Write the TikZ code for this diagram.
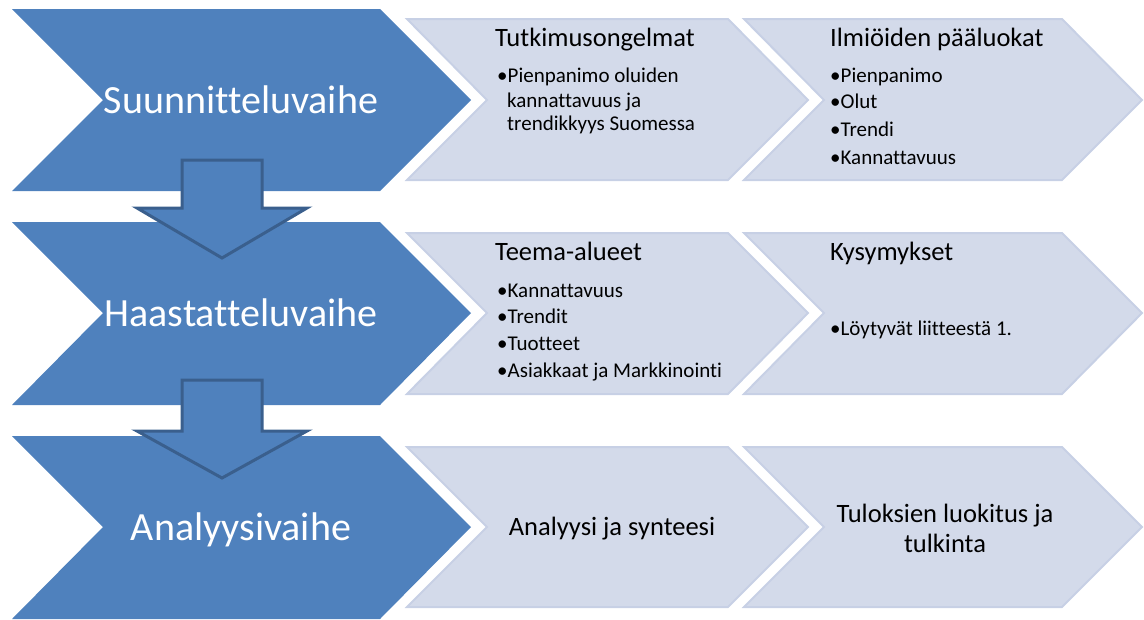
\documentclass[tikz,border=0pt]{standalone}
\usepackage{fontspec}
\setmainfont{Carlito}[Ligatures={NoCommon}]
\definecolor{phaseblue}{HTML}{4F81BD}
\definecolor{arrowedge}{HTML}{3A5F8D}
\definecolor{stepfill}{HTML}{D3DAEA}
\definecolor{stepedge}{HTML}{C7D0E5}

\begin{document}
\begin{tikzpicture}[x=1pt, y=-1pt,
    phaseshape/.style={fill=phaseblue},
    stepshape/.style={fill=stepfill, draw=stepedge, line width=2pt},
    downarrow/.style={fill=phaseblue, draw=arrowedge, line width=3pt},
    phase/.style={text=white, font=\fontsize{40}{48}\selectfont, anchor=base, inner sep=0pt},
    head/.style={font=\fontsize{26.5}{30}\selectfont, anchor=base west, inner sep=0pt},
    item/.style={font=\fontsize{21}{24}\selectfont, anchor=base west, inner sep=0pt},
    steptext/.style={font=\fontsize{26.5}{30}\selectfont, inner sep=0pt}]
    \useasboundingbox (0,0) rectangle (1144,619);

    % Vaiheet
    \fill[phaseshape] (12,9) -- (380,9) -- (471,100) -- (380,191) -- (12,191) -- (103,100) -- cycle;
    \fill[phaseshape] (12,222) -- (380,222) -- (471,313) -- (380,405) -- (12,405) -- (103,313) -- cycle;
    \fill[phaseshape] (12,436) -- (380,436) -- (471,527) -- (380,619) -- (12,619) -- (103,527) -- cycle;

    % Vaiheiden sisalto
    \draw[stepshape] (407,19) -- (728,19) -- (808,100) -- (728,180) -- (407,180) -- (487,100) -- cycle;
    \draw[stepshape] (744,19) -- (1062,19) -- (1142,100) -- (1062,180) -- (744,180) -- (824,100) -- cycle;
    \draw[stepshape] (407,233) -- (728,233) -- (808,313) -- (728,394) -- (407,394) -- (487,313) -- cycle;
    \draw[stepshape] (744,233) -- (1062,233) -- (1142,313) -- (1062,394) -- (744,394) -- (824,313) -- cycle;
    \draw[stepshape] (407,447) -- (728,447) -- (808,527) -- (728,607) -- (407,607) -- (487,527) -- cycle;
    \draw[stepshape] (744,447) -- (1062,447) -- (1142,527) -- (1062,607) -- (744,607) -- (824,527) -- cycle;

    % Nuolet alas
    \draw[downarrow] (182,160) -- (262,160) -- (262,208) -- (307,208) -- (222,258) -- (137,208) -- (182,208) -- cycle;
    \draw[downarrow] (182,380) -- (262,380) -- (262,431) -- (307,431) -- (222,478) -- (137,431) -- (182,431) -- cycle;

    % Tekstit
    \node[phase] (suunnittelu) at (241,113) {Suunnitteluvaihe};
    \node[phase] (haastattelu) at (241,326) {Haastatteluvaihe};
    \node[phase] (analyysi) at (241,540) {Analyysivaihe};

    \node[head] (ongelmat) at (495,46) {Tutkimusongelmat};
    \node[item] (ongelma1) at (497,82) {•Pienpanimo oluiden};
    \node[item] (ongelma2) at (507,107) {kannattavuus ja};
    \node[item] (ongelma3) at (507,130) {trendikkyys Suomessa};

    \node[head] (luokat) at (830,46) {Ilmiöiden pääluokat};
    \node[item] (luokka1) at (830,82) {•Pienpanimo};
    \node[item] (luokka2) at (830,108) {•Olut};
    \node[item] (luokka3) at (830,136) {•Trendi};
    \node[item] (luokka4) at (830,164) {•Kannattavuus};

    \node[head] (teemat) at (495,260) {Teema-alueet};
    \node[item] (teema1) at (497,297) {•Kannattavuus};
    \node[item] (teema2) at (497,323) {•Trendit};
    \node[item] (teema3) at (497,350) {•Tuotteet};
    \node[item] (teema4) at (497,377) {•Asiakkaat ja Markkinointi};

    \node[head] (kysymykset) at (830,260) {Kysymykset};
    \node[item] (kysymys1) at (830,335) {•Löytyvät liitteestä 1.};

    \node[steptext, anchor=base] (synteesi) at (612,535) {Analyysi ja synteesi};
    \node[steptext, align=center] (tulkinta) at (945,528) {Tuloksien luokitus ja\\tulkinta};
\end{tikzpicture}
\end{document}
